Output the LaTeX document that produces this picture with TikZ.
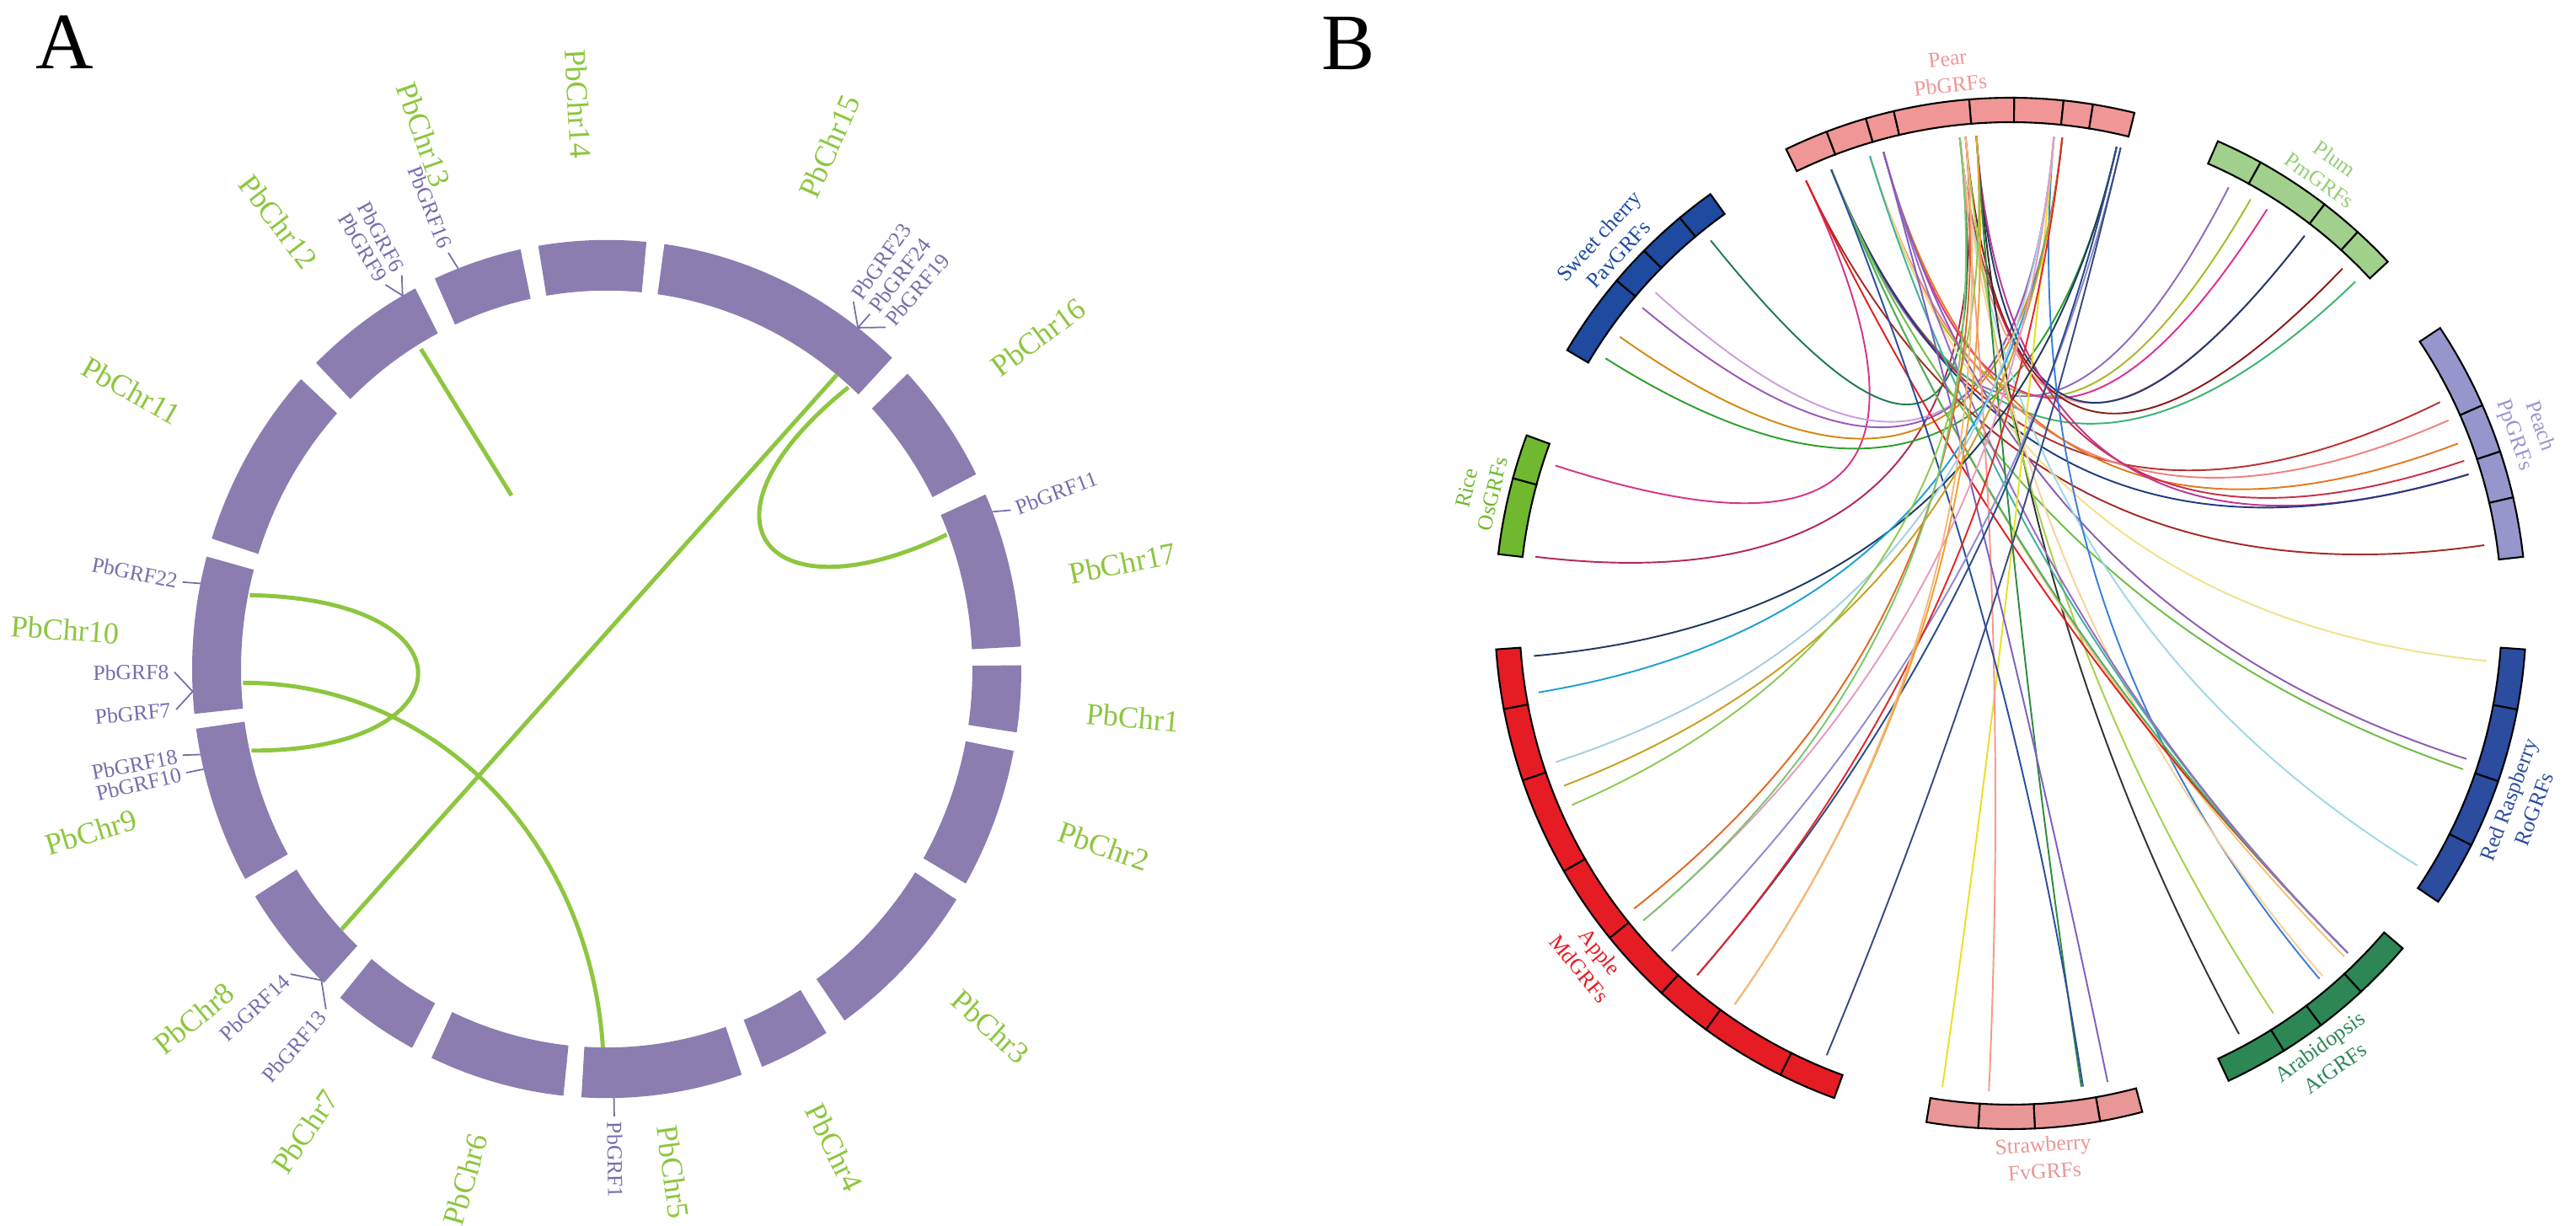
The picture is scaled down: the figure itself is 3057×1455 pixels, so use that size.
\documentclass[tikz,border=0pt]{standalone}
\usepackage{fontspec}
\setmainfont{Liberation Serif}
\definecolor{chrpurple}{RGB}{139,125,176}
\definecolor{genepurple}{RGB}{120,108,172}
\definecolor{chrgreen}{RGB}{141,198,63}
\definecolor{pearfill}{RGB}{240,150,150}
\definecolor{plumfill}{RGB}{160,208,140}
\definecolor{cherryfill}{RGB}{30,74,160}
\definecolor{peachfill}{RGB}{150,150,204}
\definecolor{ricefill}{RGB}{112,184,46}
\definecolor{applefill}{RGB}{230,28,36}
\definecolor{strawfill}{RGB}{232,150,150}
\definecolor{arabfill}{RGB}{44,135,84}
\definecolor{rrfill}{RGB}{44,76,160}
\definecolor{plumtext}{RGB}{150,205,120}
\definecolor{peachtext}{RGB}{150,150,210}
% one annular sub-box of a species arc
\newcommand{\grfbox}[3]{\draw[spbox, fill=#3] (#1:\Rbi) arc[start angle=#1, end angle=#2, radius=\Rbi] -- (#2:\Rbo) arc[start angle=#2, end angle=#1, radius=\Rbo] -- cycle;}
% one collinear pair, pear angle -> other angle
\newcommand{\grflink}[3]{\definecolor{lkcol}{HTML}{#3}\draw[grflink, draw=lkcol] (#1:\Rl) .. controls (#1:\Rc) and (#2:\Rc) .. (#2:\Rl);}
\begin{document}
\begin{tikzpicture}[x=0.01cm, y=0.01cm,
  chrseg/.style={fill=chrpurple},
  chrlabel/.style={text=chrgreen, font=\fontsize{10.3}{12}\selectfont, inner sep=0pt},
  genelabel/.style={text=genepurple, font=\fontsize{7.3}{8}\selectfont, inner sep=0pt},
  genetick/.style={draw=genepurple, line width=0.5pt},
  syntenic/.style={draw=chrgreen, line width=1.4pt},
  spbox/.style={draw=black, line width=0.6pt},
  splabel/.style={font=\fontsize{7.3}{9}\selectfont, align=center, inner sep=1pt},
  grflink/.style={line width=0.55pt},
  panel/.style={font=\fontsize{27}{30}\selectfont, inner sep=0pt}]
  \useasboundingbox (0,0) rectangle (3057,1455);
  \def\Rout{492}
  \def\Rin{434}
  \def\Rtick{513}
  \def\Rlab{519}
  % -------------------------------------------- A: pear chromosomes
  \node[panel] (lblA) at (77,1405) {A};
  \begin{scope}[shift={(720,661)}, yscale=1.035]
    \foreach \a/\b/\n/\la/\lr in {0.5/-8.5/1/-5.1/627, -11/-30/2/-19/624, -32.5/-55/3/-42/613,
        -58/-68/4/-63.8/611, -71/-93.5/5/-82.2/582, -96/-115/6/-106/609, -118/-130/7/-124/640,
        -133/-148/8/-140.7/633, -150.7/-172/9/-163/640, 186/164.8/10/176/644,
        162.3/137.5/11/150.5/648, 134.5/117.5/12/127.2/644, 114.5/102/13/109.5/650,
        99.5/84.5/14/93/649, 82/46.5/15/66.2/655, 43.5/27/16/36.6/638, 24/3/17/11.2/624}{
      \fill[chrseg] (\a:\Rin) arc[start angle=\a, end angle=\b, radius=\Rin]
        -- (\b:\Rout) arc[start angle=\b, end angle=\a, radius=\Rout] -- cycle;
      \pgfmathsetmacro\rot{cos(\la)<0 ? \la+180 : \la}
      \node[chrlabel, rotate=\rot] (chr\n) at (\la:\lr) {PbChr\n};
    }
    % gene ticks and names
    \foreach \base/\lab/\txt in {111/111.5/PbGRF16, 119.5/118.3/PbGRF6, 119.5/120.8/PbGRF9,
        52.7/55.2/PbGRF23, 52.7/52.5/PbGRF24, 52.7/49.8/PbGRF19, 21.5/20.8/PbGRF11,
        168.5/168.8/PbGRF22, -177/-179.6/PbGRF8, -177/-174.8/PbGRF7,
        -168.5/-168.9/PbGRF18, -166.5/-166.6/PbGRF10, -133.5/-137/PbGRF14,
        -133.5/-130.5/PbGRF13, -89/-89/PbGRF1}{
      \draw[genetick] (\base:\Rout) -- (\lab:\Rtick);
      \pgfmathtruncatemacro\flip{cos(\lab)<0}
      \pgfmathsetmacro\rot{cos(\lab)<0 ? \lab+180 : \lab}
      \ifnum\flip=1 \def\anc{east}\else\def\anc{west}\fi
      \node[genelabel, rotate=\rot, anchor=\anc] (\txt) at (\lab:\Rlab) {\txt};
    }
    % segmental duplications
    \coordinate (c12) at (121:428);
    \coordinate (c12e) at (-113,199);
    \draw[syntenic] (c12) -- (c12e);
    \coordinate (c15a) at (51:434);
    \coordinate (c8) at (-136.5:434);
    \draw[syntenic] (c15a) -- (c8);
    \coordinate (c15b) at (48.4:432);
    \coordinate (c17) at (20.9:432);
    \draw[syntenic] (c15b) .. controls (90,170) and (190,55) .. (c17);
    \coordinate (c10a) at (168.7:432);
    \coordinate (c9) at (-167.5:432);
    \draw[syntenic] (c10a) .. controls (-150,80) and (-165,-95) .. (c9);
    \coordinate (c10b) at (-177.9:432);
    \coordinate (c5) at (-90.6:434);
    \draw[syntenic] (c10b) .. controls (-200,-15) and (-20,-200) .. (c5);
  \end{scope}
  % -------------------------------------------- B: collinearity between species
  \node[panel] (lblB) at (1600,1403) {B};
  \def\Rbo{612}
  \def\Rbi{583}
  \def\Rl{568}
  \def\Rc{189}
  \begin{scope}[shift={(2386,727)}]
    \foreach \a/\b in {115.8/110.9, 110.9/106.3, 106.3/103.1, 103.1/94.6, 94.6/89.6,
        89.6/84.1, 84.1/80.8, 80.8/76.1}{\grfbox{\a}{\b}{pearfill}}
    \foreach \a/\b in {66.3/61, 61/52.5, 52.5/47.7, 47.7/43}{\grfbox{\a}{\b}{plumfill}}
    \foreach \a/\b in {33.6/23.8, 23.8/18.3, 18.3/13, 13/6.3}{\grfbox{\a}{\b}{peachfill}}
    \foreach \a/\b in {-4/-10.75, -10.75/-19, -19/-26.7, -26.7/-34}{\grfbox{\a}{\b}{rrfill}}
    \foreach \a/\b in {-40.5/-47.2, -47.2/-53, -53/-58, -58/-65}{\grfbox{\a}{\b}{arabfill}}
    \foreach \a/\b in {-75.2/-80, -80/-87.3, -87.3/-93.6, -93.6/-99.4}{\grfbox{\a}{\b}{strawfill}}
    \foreach \a/\b in {-176/-169.3, -169.3/-161.1, -161.1/-150, -150/-141, -141/-132.6,
        -132.6/-126.2, -126.2/-116.5, -116.5/-110}{\grfbox{\a}{\b}{applefill}}
    \foreach \a/\b in {173.4/164.8, 164.8/159.8}{\grfbox{\a}{\b}{ricefill}}
    \foreach \a/\b in {149.3/139.8, 139.8/135.3, 135.3/129.9, 129.9/125.6}{\grfbox{\a}{\b}{cherryfill}}
    % species names
    \foreach \m/\nm/\txt/\col in {96.5/pear/{Pear\\PbGRFs}/pearfill, 54.5/plum/{Plum\\PmGRFs}/plumtext,
        137.5/cherry/{Sweet cherry\\PavGRFs}/cherryfill, 19.5/peach/{Peach\\PpGRFs}/peachtext,
        167/rice/{Rice\\OsGRFs}/ricefill, -20.5/rasp/{Red Raspberry\\RoGRFs}/rrfill,
        -54.5/arab/{Arabidopsis\\AtGRFs}/arabfill, -86.5/straw/{Strawberry\\FvGRFs}/strawfill,
        -140.5/apple/{Apple\\MdGRFs}/applefill}{
      \pgfmathtruncatemacro\up{sin(\m)>0}
      \ifnum\up=1
        \pgfmathsetmacro\rot{\m-90}\def\anc{south}
      \else
        \pgfmathsetmacro\rot{\m+90}\def\anc{north}
      \fi
      \node[splabel, text=\col, rotate=\rot, anchor=\anc] (\nm) at (\m:618) {\txt};
    }
    % rice
    \grflink{115.3}{162}{D6338A}
    \grflink{95.4}{173.2}{B22A4E}
    % sweet cherry
    \grflink{96.1}{128.8}{1E7B4C}
    \grflink{84.8}{137.9}{C9A0DC}
    \grflink{84.8}{140.3}{9B59B6}
    \grflink{83.8}{144.7}{D4890F}
    \grflink{77.2}{147.8}{2CA02C}
    % plum
    \grflink{112}{62.9}{8E6BBF}
    \grflink{107.1}{59.9}{A9B824}
    \grflink{105.4}{57.6}{E02E8E}
    \grflink{96.1}{52.1}{F2A09A}
    \grflink{94.1}{52.1}{1F3A73}
    \grflink{95.4}{46.1}{8B1A1A}
    \grflink{112}{43.9}{3CB371}
    % peach
    \grflink{112}{26.2}{B83232}
    \grflink{107.1}{23.8}{F08080}
    \grflink{105.4}{20.8}{E07B20}
    \grflink{96.1}{18.6}{C8304A}
    \grflink{94.1}{16.9}{C2358F}
    \grflink{112}{16.9}{203C80}
    \grflink{115.3}{8.2}{A52A2A}
    % red raspberry
    \grflink{107.1}{-5.7}{F3E08C}
    \grflink{105.4}{-17.7}{8E5CB0}
    \grflink{112}{-19}{6DBE45}
    \grflink{96.1}{-31.8}{9ED8E8}
    % arabidopsis
    \grflink{94.1}{-61.5}{333333}
    \grflink{95.4}{-56.7}{A6D04A}
    \grflink{84.8}{-49.8}{3A7FD5}
    \grflink{96.1}{-49.3}{FAD19A}
    \grflink{112}{-45.8}{F5C27A}
    \grflink{115.3}{-45.2}{E02020}
    \grflink{112}{-45.2}{48B060}
    \grflink{107.1}{-45.2}{3CB3A0}
    \grflink{105.4}{-45.2}{9A6BC0}
    % strawberry
    \grflink{84.8}{-98.2}{E8E020}
    \grflink{96.1}{-92.6}{F59A8C}
    \grflink{94.1}{-81.5}{2E8B3E}
    \grflink{112}{-81.3}{2B4F9E}
    \grflink{105.4}{-78.3}{7E60C0}
    % apple
    \grflink{77.2}{-174.9}{1F3A5F}
    \grflink{83.8}{-170.5}{1FA0D0}
    \grflink{84.8}{-161.9}{A6CEE3}
    \grflink{83.8}{-158.9}{C8A020}
    \grflink{94.1}{-156.4}{8CCB50}
    \grflink{95.4}{-141.9}{E06A20}
    \grflink{84.8}{-140.1}{E89AC0}
    \grflink{96.1}{-140.1}{7CC870}
    \grflink{76.7}{-135.1}{8C8CD0}
    \grflink{77.2}{-130.9}{2A4C8C}
    \grflink{83.8}{-130.9}{E02828}
    \grflink{94.1}{-125.2}{F0A030}
    \grflink{95.4}{-125.2}{F4B880}
    \grflink{76.7}{-112.6}{3A4A80}
  \end{scope}
\end{tikzpicture}
\end{document}
